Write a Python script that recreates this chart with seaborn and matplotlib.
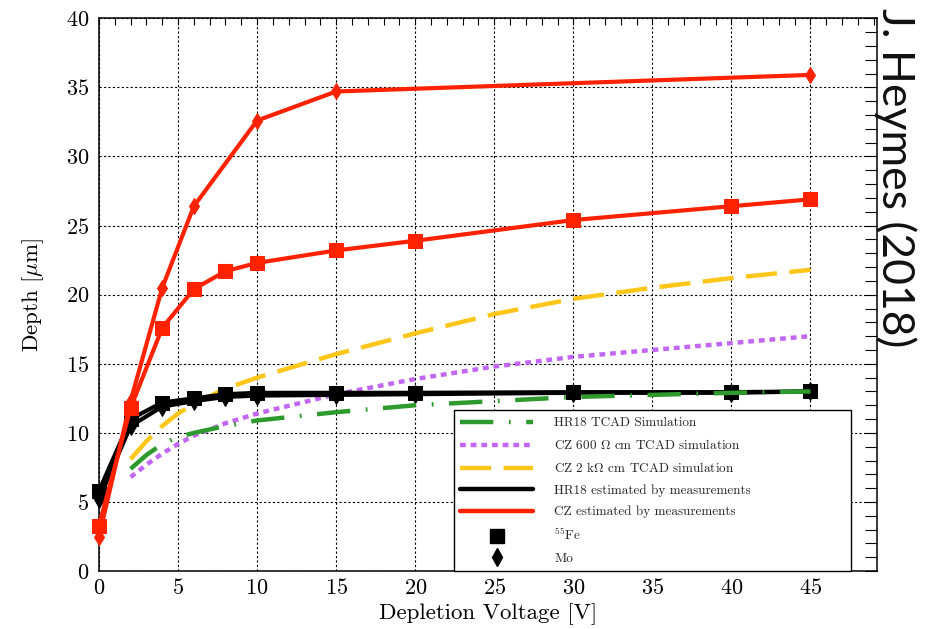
import matplotlib
matplotlib.use("Agg")
import matplotlib.pyplot as plt
from matplotlib.lines import Line2D
from matplotlib.ticker import MultipleLocator
import seaborn as sns
import pandas as pd

# Measured depletion depth (um) versus depletion voltage (V)
v_meas_cz = [0, 2, 4, 6, 8, 10, 15, 20, 30, 40, 45]
cz_fe = [3.3, 11.8, 17.6, 20.4, 21.7, 22.3, 23.2, 23.9, 25.4, 26.4, 26.9]
v_mo_cz = [0, 2, 4, 6, 10, 15, 45]
cz_mo = [2.5, 12.3, 20.5, 26.4, 32.6, 34.7, 35.9]

v_meas_hr = [0, 2, 4, 6, 8, 10, 15, 20, 30, 40, 45]
hr_fe = [5.8, 11.0, 12.2, 12.5, 12.8, 12.9, 12.9, 12.9, 12.95, 12.95, 13.0]
hr_mo = [5.2, 10.5, 11.9, 12.3, 12.6, 12.7, 12.75, 12.8, 12.9, 12.9, 13.0]

# TCAD simulations
v_sim = [2, 3, 4, 5, 6, 8, 10, 15, 20, 25, 30, 35, 40, 45]
hr18_tcad = [7.4, 8.4, 9.2, 9.7, 10.0, 10.5, 10.9, 11.5, 12.0, 12.3, 12.6, 12.75, 12.9, 13.0]
cz600_tcad = [6.8, 7.7, 8.5, 9.2, 9.8, 10.7, 11.4, 12.8, 13.9, 14.8, 15.5, 16.0, 16.5, 17.0]
cz2k_tcad = [8.1, 9.4, 10.5, 11.4, 12.1, 13.2, 14.0, 15.7, 17.2, 18.6, 19.7, 20.5, 21.2, 21.8]

legend_labels = [
    "HR18 TCAD Simulation",
    r"CZ 600 $\Omega$ cm TCAD simulation",
    r"CZ 2 k$\Omega$ cm TCAD simulation",
    "HR18 estimated by measurements",
    "CZ estimated by measurements",
    r"$^{55}$Fe",
    "Mo",
]

sns.set_theme(style="white")
plt.rcParams["font.family"] = ["cmr10", "DejaVu Serif"]
plt.rcParams["mathtext.fontset"] = "cm"
plt.rcParams["axes.formatter.use_mathtext"] = True

GREEN = "#2e9a2e"
PURPLE = "#c266f5"
YELLOW = "#ffc61a"
RED = "#ff2200"
BLACK = "#000000"

green_ls = (0, (7.5, 3.5, 0.4, 3.5))
purple_ls = (0, (1.3, 1.1))
yellow_ls = (0, (7.0, 2.8))

fig = plt.figure(figsize=(9.25, 6.29), dpi=100)
ax = fig.add_axes([0.107, 0.092, 0.841, 0.879])

sim = pd.DataFrame({"V": v_sim, "hr18": hr18_tcad, "cz600": cz600_tcad, "cz2k": cz2k_tcad})
hr = pd.DataFrame({"V": v_meas_hr, "fe": hr_fe, "mo": hr_mo})
czf = pd.DataFrame({"V": v_meas_cz, "fe": cz_fe})
czm = pd.DataFrame({"V": v_mo_cz, "mo": cz_mo})

sns.lineplot(data=sim, x="V", y="cz2k", ax=ax, color=YELLOW, lw=3.2, linestyle=yellow_ls, zorder=3)
sns.lineplot(data=sim, x="V", y="cz600", ax=ax, color=PURPLE, lw=3.2, linestyle=purple_ls, zorder=3)

sns.lineplot(data=hr, x="V", y="mo", ax=ax, color=BLACK, lw=3.0, marker="d", markersize=9,
             markeredgecolor=BLACK, zorder=4, clip_on=False)
sns.lineplot(data=hr, x="V", y="fe", ax=ax, color=BLACK, lw=3.0, marker="s", markersize=10,
             markeredgecolor=BLACK, zorder=4, clip_on=False)
sns.lineplot(data=sim, x="V", y="hr18", ax=ax, color=GREEN, lw=3.2, linestyle=green_ls, zorder=5)

sns.lineplot(data=czm, x="V", y="mo", ax=ax, color=RED, lw=3.0, marker="d", markersize=8,
             markeredgecolor=RED, zorder=6, clip_on=False)
sns.lineplot(data=czf, x="V", y="fe", ax=ax, color=RED, lw=3.0, marker="s", markersize=10,
             markeredgecolor=RED, zorder=6, clip_on=False)

ax.set_xlim(0, 49.2)
ax.set_ylim(0, 40)
ax.xaxis.set_major_locator(MultipleLocator(5))
ax.xaxis.set_minor_locator(MultipleLocator(1))
ax.yaxis.set_major_locator(MultipleLocator(5))
ax.yaxis.set_minor_locator(MultipleLocator(1))
ax.tick_params(which="both", direction="in", top=True, right=True, colors="black",
               labelsize=16, width=0.8)
ax.tick_params(axis="x", which="both", length=5, pad=5)
ax.tick_params(axis="y", which="both", length=8.5, pad=7)
ax.grid(True, which="major", color="black", linestyle=(0, (2, 2)), linewidth=0.8)
for s in ax.spines.values():
    s.set_color("black")
    s.set_linewidth(1.1)

ax.set_xlabel("Depletion Voltage [V]", fontsize=16.5, color="black", labelpad=4)
ax.set_ylabel(r"Depth [$\mu$m]", fontsize=16.5, color="black", labelpad=14)

handles = [
    Line2D([], [], color=GREEN, lw=3.2, linestyle=green_ls),
    Line2D([], [], color=PURPLE, lw=3.2, linestyle=purple_ls),
    Line2D([], [], color=YELLOW, lw=3.2, linestyle=yellow_ls),
    Line2D([], [], color=BLACK, lw=3.2),
    Line2D([], [], color=RED, lw=3.2),
    Line2D([], [], color=BLACK, lw=0, marker="s", markersize=10),
    Line2D([], [], color=BLACK, lw=0, marker="d", markersize=9),
]
leg = ax.legend(handles, legend_labels, loc="lower left",
                bbox_to_anchor=(0.456, 0.0, 0.511, 0.29), mode="expand",
                borderaxespad=0, fontsize=9.5, handlelength=5.5, handletextpad=1.6,
                labelspacing=0.68, borderpad=0.5, fancybox=False, framealpha=1,
                edgecolor="black")
leg.get_frame().set_linewidth(1.0)
leg.set_zorder(10)

fig.text(0.968, 0.988, "J. Heymes (2018)", rotation=270, ha="center", va="top",
         family="Lato", fontsize=32, color="#111111")

fig.savefig("out.png", dpi=100)
